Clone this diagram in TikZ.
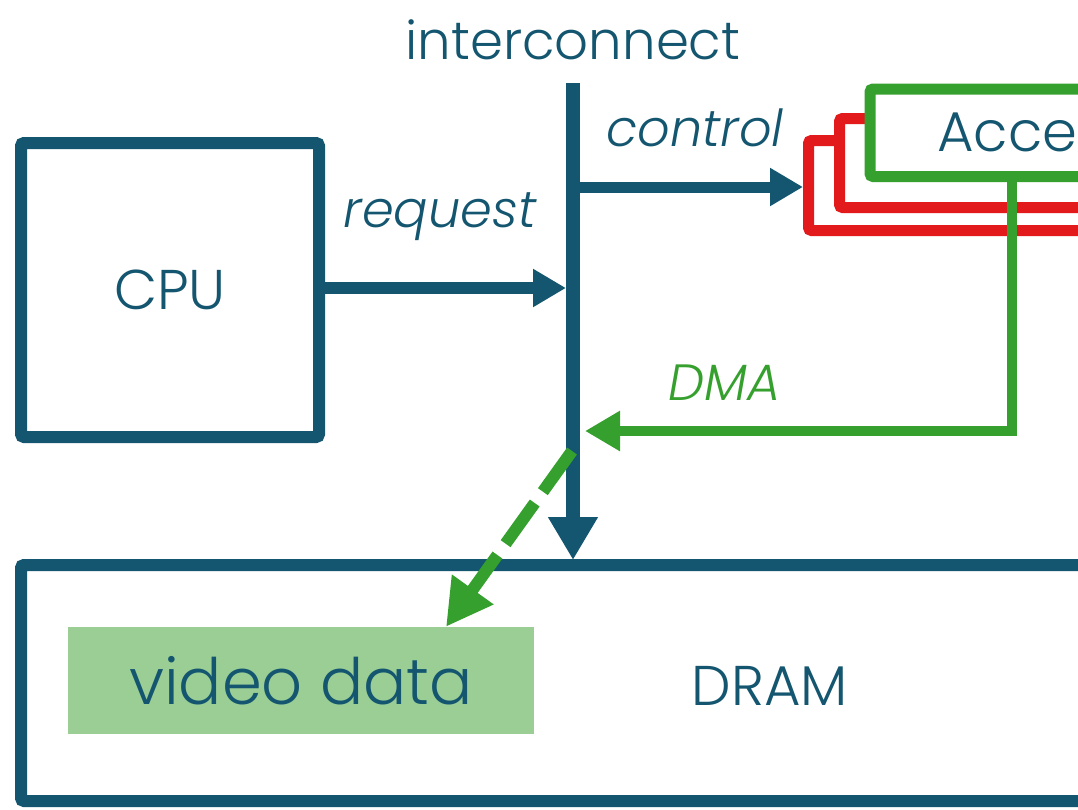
\documentclass[tikz,border=0pt]{standalone}
\usepackage{fontspec}
\setmainfont{Poppins}[UprightFont=* Light, ItalicFont=* Light Italic]
\usetikzlibrary{arrows.meta}
\definecolor{teal}{RGB}{20,86,111}
\definecolor{accgreen}{RGB}{54,160,46}
\definecolor{accred}{RGB}{226,26,28}
\definecolor{datagreen}{RGB}{154,206,149}
\tikzset{
  box/.style={draw=teal, line width=12pt, rounded corners=3pt, fill=white, inner sep=0pt},
  accframe/.style={line width=11pt, rounded corners=3pt, fill=white, inner sep=0pt, anchor=north west},
  label/.style={text=teal, inner sep=0pt},
  capslabel/.style={label, font=\fontsize{56}{60}\selectfont},
  wordlabel/.style={label, font=\fontsize{53}{60}\selectfont},
  flowlabel/.style={label, font=\fontsize{51}{60}\selectfont\itshape},
  bus/.style={draw=teal, line width=14pt, -{Triangle[length=43pt,width=47pt]}},
  link/.style={draw=teal, line width=12pt, -{Triangle[length=33pt,width=36pt]}},
  dmalink/.style={draw=accgreen, line width=10pt, -{Triangle[length=35pt,width=38pt]}},
  dmacopy/.style={draw=accgreen, line width=12pt, dash pattern=on 50pt off 14pt, -{Triangle[length=46pt,width=48pt]}}
}
\begin{document}
\begin{tikzpicture}[x=1pt,y=-1pt]
\useasboundingbox (0,0) rectangle (1078,809);
\clip (0,0) rectangle (1078,809);

% memory
\node[box, minimum width=1100pt, minimum height=236pt, anchor=north west] (dram) at (15,559) {};
\node[fill=datagreen, minimum width=466pt, minimum height=107pt, inner sep=0pt] (video) at (301,680.5) {};
\node[label, font=\fontsize{64}{70}\selectfont] (videotext) at (video.center) {video data};
\node[capslabel] (dramtext) at (770,686) {DRAM};

% processor
\node[box, minimum width=298pt, minimum height=294pt] (cpu) at (170,290) {};
\node[capslabel] (cputext) at (cpu.center) {CPU};

% accelerator instances, back to front
\node[accframe, draw=accred, minimum width=400pt, minimum height=90pt] (acc3) at (803,135) {};
\node[accframe, draw=accred, minimum width=400pt, minimum height=89pt] (acc2) at (834,113) {};
\node[accframe, draw=accgreen, minimum width=400pt, minimum height=87.5pt] (acc) at (864.5,83.5) {};
\node[capslabel, anchor=base west] (acctext) at (937,151) {Accelerator};

% interconnect
\coordinate (bustop) at (573,83);
\coordinate (busbot) at (573,560);
\coordinate (busL) at (566,0);
\coordinate (busR) at (580,0);
\draw[bus] (bustop) -- (busbot);
\node[wordlabel] (bustext) at (573,40) {interconnect};

% request and control
\draw[link] (cpu.east |- 0,288) -- (busL |- 0,288);
\node[flowlabel] (reqtext) at (440,217) {request};
\coordinate (ctrlstart) at (580,187);
\draw[link, line width=11pt] (ctrlstart) -- (acc3.west |- ctrlstart);
\node[flowlabel] (ctrltext) at (695,128) {control};

% DMA path
\coordinate (dmacorner) at (1012,431);
\coordinate (dmatip) at (585,431);
\draw[dmalink] (acc.south -| dmacorner) -- (dmacorner) -- (dmatip);
\node[flowlabel, text=accgreen] (dmatext) at (725,383) {DMA};
\coordinate (copystart) at (572,451);
\draw[dmacopy] (copystart) -- (video.north -| 446,0);
\end{tikzpicture}
\end{document}
